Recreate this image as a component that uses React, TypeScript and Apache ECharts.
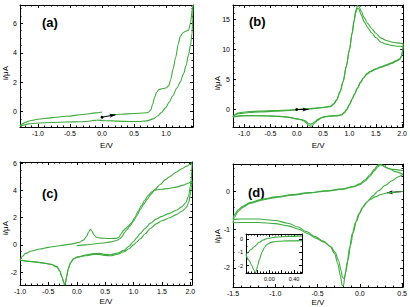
import React, { useEffect, useRef } from 'react';
import * as echarts from 'echarts';

const GREEN = '#3dac3d';
const FONT = 'Liberation Sans, Arial, sans-serif';

// ---- (a) ----
const aForward: number[][] = [[0.12,-0.24],[0.3,-0.18],[0.5,-0.13],[0.65,-0.1],[0.72,-0.06],[0.76,0.1],[0.79,0.5],[0.82,0.95],[0.85,1.3],[0.89,1.5],[0.95,1.57],[1.0,1.6],[1.04,1.75],[1.07,2.15],[1.11,2.9],[1.15,3.7],[1.19,4.6],[1.22,5.1],[1.26,5.35],[1.3,5.45],[1.35,5.54],[1.38,6.0],[1.41,7.0],[1.42,7.25]];
const aReverse: number[][] = [[1.42,7.25],[1.415,6.3],[1.405,5.3],[1.38,4.5],[1.35,3.85],[1.31,3.1],[1.27,2.55],[1.22,2.0],[1.17,1.6],[1.1,1.05],[1.05,0.65],[0.99,0.25],[0.93,-0.05],[0.87,-0.3],[0.8,-0.5],[0.7,-0.63],[0.55,-0.68],[0.35,-0.67],[0.15,-0.63],[0.03,-0.62],[-0.06,-0.58],[-0.12,-0.6],[-0.2,-0.66],[-0.35,-0.69],[-0.55,-0.71],[-0.8,-0.74],[-1.0,-0.78],[-1.15,-0.84],[-1.23,-0.92],[-1.28,-1.0]];
const aReturn: number[][] = [[-1.28,-1.0],[-1.25,-0.85],[-1.2,-0.74],[-1.12,-0.62],[-1.0,-0.52],[-0.8,-0.43],[-0.55,-0.32],[-0.3,-0.2],[-0.1,-0.09],[0.0,-0.03]];
const aArrow: number[][] = [[0.0,-0.38],[0.21,-0.22]];

// ---- (b) ----
const bForward1: number[][] = [[0,0.02],[0.2,0.1],[0.4,0.25],[0.55,0.4],[0.64,0.5],[0.7,0.9],[0.76,1.6],[0.82,2.9],[0.88,4.6],[0.94,7.2],[1.0,10.0],[1.05,12.8],[1.09,15.0],[1.12,16.5],[1.15,17.3],[1.18,17.2],[1.22,16.4],[1.28,15.3],[1.35,14.3],[1.42,13.5],[1.5,12.7],[1.6,11.9],[1.7,11.5],[1.8,11.25],[1.9,11.1],[2.02,11.0]];
const bForward2: number[][] = [[0,0.05],[0.2,0.14],[0.4,0.3],[0.55,0.45],[0.64,0.6],[0.7,1.0],[0.76,1.7],[0.82,3.0],[0.88,4.7],[0.94,7.2],[1.0,9.9],[1.05,12.6],[1.09,14.7],[1.12,16.1],[1.15,16.9],[1.18,16.7],[1.22,15.8],[1.28,14.6],[1.35,13.6],[1.42,12.8],[1.5,12.0],[1.6,11.2],[1.7,10.9],[1.8,10.7],[1.9,10.55],[2.02,10.5]];
const bReverse1: number[][] = [[2.02,11.0],[2.01,10.0],[1.99,9.0],[1.96,8.5],[1.9,8.2],[1.8,7.8],[1.7,7.45],[1.6,7.15],[1.5,6.8],[1.4,6.4],[1.33,6.0],[1.27,5.4],[1.21,4.6],[1.15,3.6],[1.1,2.7],[1.05,1.8],[1.0,0.9],[0.95,0.1],[0.9,-0.45],[0.85,-0.8],[0.78,-0.95],[0.65,-1.0],[0.55,-1.1],[0.47,-1.35],[0.4,-1.75],[0.34,-2.25],[0.29,-2.65],[0.26,-2.75],[0.22,-2.55],[0.17,-2.1],[0.12,-1.8],[0.06,-1.62],[0.01,-1.55],[-0.04,-1.5],[-0.1,-1.35],[-0.2,-1.2],[-0.35,-1.1],[-0.6,-1.02],[-0.9,-1.0],[-1.05,-1.02],[-1.15,-1.1],[-1.21,-1.2]];
const bReverse2: number[][] = [[2.02,10.5],[2.01,9.6],[1.99,8.9],[1.96,8.4],[1.9,8.1],[1.8,7.7],[1.7,7.35],[1.6,7.05],[1.5,6.7],[1.4,6.3],[1.33,5.9],[1.27,5.3],[1.21,4.5],[1.15,3.5],[1.1,2.6],[1.05,1.7],[1.0,0.8],[0.95,0.0],[0.9,-0.55],[0.85,-0.88],[0.78,-1.02],[0.65,-1.08],[0.55,-1.16],[0.47,-1.3],[0.4,-1.6],[0.34,-2.0],[0.3,-2.3],[0.26,-2.4],[0.22,-2.25],[0.17,-1.9],[0.12,-1.7],[0.06,-1.58],[0.01,-1.52],[-0.04,-1.46],[-0.1,-1.33],[-0.2,-1.18],[-0.35,-1.08],[-0.6,-1.0],[-0.9,-0.98],[-1.05,-1.0],[-1.15,-1.08],[-1.21,-1.2]];
const bReturn1: number[][] = [[-1.21,-1.2],[-1.18,-0.85],[-1.13,-0.6],[-1.05,-0.45],[-0.9,-0.32],[-0.7,-0.24],[-0.4,-0.14],[-0.15,-0.05],[0,0.02]];
const bReturn2: number[][] = [[-1.21,-1.2],[-1.19,-0.95],[-1.14,-0.75],[-1.05,-0.6],[-0.9,-0.47],[-0.7,-0.38],[-0.4,-0.25],[-0.15,-0.12],[0,-0.05]];
const bArrow: number[][] = [[0.0,0.05],[0.22,0.05]];

// ---- (c) ----
const cForward1: number[][] = [[0,-0.05],[0.15,0.0],[0.3,0.07],[0.45,0.14],[0.6,0.22],[0.7,0.32],[0.76,0.45],[0.8,0.62],[0.84,0.9],[0.88,1.1],[0.93,1.35],[1.0,1.75],[1.06,2.15],[1.12,2.6],[1.18,3.0],[1.24,3.35],[1.3,3.7],[1.38,4.1],[1.47,4.45],[1.56,4.8],[1.65,5.05],[1.75,5.35],[1.85,5.6],[1.94,5.8],[2.0,5.95],[2.03,6.05]];
const cReverse1: number[][] = [[2.03,6.05],[2.025,5.4],[2.02,4.9],[2.0,4.3],[1.97,3.6],[1.92,3.1],[1.85,2.8],[1.75,2.55],[1.62,2.3],[1.5,2.1],[1.4,1.9],[1.3,1.6],[1.2,1.2],[1.12,0.85],[1.05,0.5],[1.0,0.25],[0.92,-0.1],[0.83,-0.4],[0.72,-0.6],[0.6,-0.72],[0.5,-0.7],[0.4,-0.62],[0.3,-0.64],[0.15,-0.75],[0.02,-0.88],[-0.06,-1.02],[-0.11,-1.3],[-0.15,-1.75],[-0.18,-2.35],[-0.2,-2.8],[-0.215,-2.95],[-0.23,-2.75],[-0.26,-2.35],[-0.3,-1.9],[-0.35,-1.6],[-0.45,-1.42],[-0.6,-1.32],[-0.8,-1.22],[-1.0,-1.12]];
const cForward2: number[][] = [[-1.0,-1.12],[-0.96,-0.85],[-0.9,-0.62],[-0.8,-0.45],[-0.65,-0.3],[-0.5,-0.18],[-0.3,-0.06],[-0.1,0.06],[0.05,0.2],[0.12,0.35],[0.17,0.62],[0.21,0.95],[0.24,1.15],[0.27,1.0],[0.3,0.75],[0.35,0.56],[0.42,0.5],[0.55,0.47],[0.68,0.48],[0.74,0.55],[0.78,0.8],[0.82,1.05],[0.86,1.2],[0.9,1.35],[0.96,1.6],[1.02,2.0],[1.08,2.45],[1.14,2.9],[1.2,3.3],[1.26,3.65],[1.32,3.9],[1.4,4.05],[1.5,4.1],[1.62,4.15],[1.75,4.25],[1.88,4.4],[1.97,4.55],[2.03,4.7]];
const cReverse2: number[][] = [[2.03,4.7],[2.02,4.2],[2.0,3.7],[1.97,3.1],[1.93,2.75],[1.86,2.5],[1.76,2.25],[1.64,2.0],[1.5,1.78],[1.4,1.55],[1.3,1.22],[1.2,0.8],[1.12,0.45],[1.05,0.2],[1.0,0.0],[0.92,-0.28],[0.83,-0.5],[0.72,-0.68],[0.6,-0.8],[0.5,-0.78],[0.4,-0.7],[0.3,-0.7],[0.15,-0.8],[0.02,-0.9],[-0.06,-1.05],[-0.11,-1.32],[-0.15,-1.78],[-0.18,-2.38],[-0.2,-2.82],[-0.215,-2.95],[-0.23,-2.75],[-0.26,-2.37],[-0.3,-1.92],[-0.35,-1.62],[-0.45,-1.44],[-0.6,-1.33],[-0.8,-1.23],[-1.0,-1.13]];

// ---- (d) ----
const dReverse1: number[][] = [[0.51,0.0],[0.4,-0.02],[0.32,-0.04],[0.25,-0.08],[0.18,-0.14],[0.12,-0.21],[0.07,-0.3],[0.03,-0.42],[-0.01,-0.58],[-0.05,-0.8],[-0.09,-1.1],[-0.12,-1.45],[-0.15,-1.85],[-0.175,-2.2],[-0.195,-2.48],[-0.21,-2.45],[-0.23,-2.2],[-0.26,-1.9],[-0.3,-1.62],[-0.35,-1.44],[-0.43,-1.3],[-0.53,-1.18],[-0.63,-1.05],[-0.73,-0.93],[-0.85,-0.83],[-1.0,-0.76],[-1.2,-0.72],[-1.4,-0.72],[-1.5,-0.73]];
const dForward1: number[][] = [[-1.5,-0.73],[-1.48,-0.6],[-1.44,-0.48],[-1.38,-0.38],[-1.3,-0.29],[-1.15,-0.2],[-1.0,-0.14],[-0.8,-0.08],[-0.6,-0.03],[-0.4,0.02],[-0.2,0.07],[-0.08,0.13],[0.0,0.2],[0.06,0.3],[0.12,0.44],[0.17,0.58],[0.21,0.68],[0.24,0.72],[0.27,0.68],[0.31,0.62],[0.38,0.58],[0.51,0.55]];
const dReverse2: number[][] = [[0.51,0.45],[0.45,0.38],[0.38,0.28],[0.3,0.16],[0.22,0.02],[0.15,-0.12],[0.09,-0.26],[0.04,-0.4],[0.0,-0.56],[-0.04,-0.78],[-0.08,-1.08],[-0.11,-1.42],[-0.14,-1.8],[-0.165,-2.1],[-0.185,-2.28],[-0.205,-2.25],[-0.225,-2.05],[-0.25,-1.82],[-0.29,-1.6],[-0.34,-1.45],[-0.42,-1.33],[-0.52,-1.22],[-0.62,-1.1],[-0.72,-0.99],[-0.85,-0.9],[-1.0,-0.84],[-1.2,-0.81],[-1.4,-0.81],[-1.5,-0.82]];
const dForward2: number[][] = [[-1.5,-0.82],[-1.48,-0.66],[-1.44,-0.52],[-1.38,-0.41],[-1.3,-0.31],[-1.15,-0.22],[-1.0,-0.16],[-0.8,-0.1],[-0.6,-0.04],[-0.4,0.01],[-0.2,0.06],[-0.08,0.12],[0.0,0.18],[0.06,0.27],[0.12,0.4],[0.17,0.54],[0.21,0.64],[0.25,0.7],[0.29,0.66],[0.34,0.6],[0.42,0.52],[0.51,0.45]];
const dArrow: number[][] = [[0.5,0.0],[0.32,-0.03]];

// ---- (d) inset ----
const insetReverse: number[][] = [[0.53,-0.1],[0.3,-0.12],[0.15,-0.15],[0.06,-0.2],[0.01,-0.27],[-0.04,-0.4],[-0.08,-0.62],[-0.12,-0.98],[-0.16,-1.5],[-0.19,-2.0],[-0.215,-2.45],[-0.23,-2.55],[-0.25,-2.35],[-0.29,-1.95],[-0.33,-1.6],[-0.38,-1.2]];
const insetForward: number[][] = [[-0.38,-1.2],[-0.35,-1.0],[-0.3,-0.78],[-0.24,-0.55],[-0.17,-0.25],[-0.1,-0.05],[-0.02,0.08],[0.1,0.16],[0.3,0.22],[0.53,0.26]];

type AxisCfg = { min: number; max: number; split: number; step: number; dec: number; minor: number };
type Panel = {
  grid: { left: number; top: number; width: number; height: number };
  x: AxisCfg; y: AxisCfg;
  xName?: string; xGap?: number;
  labelSize: number;
  traces: number[][][];
  arrow?: { pts: number[][]; symbols: string[] };
};

const panels: Panel[] = [
  { grid: { left: 20, top: 5, width: 173, height: 122 },
    x: { min: -1.28, max: 1.42, split: 5, step: 0.5, dec: 1, minor: 5 },
    y: { min: -1.05, max: 7.25, split: 5, step: 2, dec: 0, minor: 4 },
    xName: 'E/V', xGap: 14, labelSize: 7,
    traces: [aForward, aReverse, aReturn],
    arrow: { pts: aArrow, symbols: ['circle', 'arrow'] } },
  { grid: { left: 233, top: 5, width: 172, height: 122 },
    x: { min: -1.21, max: 2.02, split: 5, step: 0.5, dec: 1, minor: 5 },
    y: { min: -2.87, max: 17.4, split: 5, step: 5, dec: 0, minor: 5 },
    xName: 'E/V', xGap: 14, labelSize: 7,
    traces: [bForward1, bReverse1, bReturn1, bForward2, bReverse2, bReturn2],
    arrow: { pts: bArrow, symbols: ['circle', 'arrow'] } },
  { grid: { left: 20, top: 162, width: 172, height: 123 },
    x: { min: -1.0, max: 2.03, split: 5, step: 0.5, dec: 1, minor: 5 },
    y: { min: -2.95, max: 6.1, split: 5, step: 2, dec: 0, minor: 4 },
    xName: 'E/V', xGap: 12, labelSize: 7,
    traces: [cForward1, cReverse1, cForward2, cReverse2] },
  { grid: { left: 233, top: 164, width: 173, height: 123 },
    x: { min: -1.5, max: 0.51, split: 4, step: 0.5, dec: 1, minor: 5 },
    y: { min: -2.5, max: 0.72, split: 3, step: 1, dec: 0, minor: 5 },
    xName: 'E/V', xGap: 11, labelSize: 7,
    traces: [dReverse1, dForward1, dReverse2, dForward2],
    arrow: { pts: dArrow, symbols: ['none', 'arrow'] } },
  { grid: { left: 246, top: 234, width: 56, height: 39 },
    x: { min: -0.38, max: 0.53, split: 5, step: 0.4, dec: 2, minor: 4 },
    y: { min: -2.56, max: 0.4, split: 3, step: 1, dec: 0, minor: 2 },
    labelSize: 5.5,
    traces: [insetReverse, insetForward] },
];

const panelLetters = [
  { text: '(a)', x: 42, y: 22 },
  { text: '(b)', x: 249, y: 21 },
  { text: '(c)', x: 42, y: 193 },
  { text: '(d)', x: 248, y: 192 },
];
const yNames = [
  { x: 5, y: 73 },
  { x: 217, y: 83 },
  { x: 5, y: 228 },
  { x: 217, y: 236 },
];

const fmt = (step: number, dec: number) => (v: number) => {
  const r = v / step;
  if (Math.abs(r - Math.round(r)) > 1e-6) return '';
  const n = Math.round(r) * step;
  return (Math.abs(n) < 1e-9 ? 0 : n).toFixed(dec);
};

function axis(gridIndex: number, cfg: AxisCfg, position: string, labels: boolean, size: number, extra: any = {}) {
  return {
    type: 'value', gridIndex, position, min: cfg.min, max: cfg.max, splitNumber: cfg.split,
    axisLine: { show: true, onZero: false, lineStyle: { color: '#000', width: 1 } },
    axisTick: { show: true, inside: true, length: 3, lineStyle: { color: '#000', width: 1 } },
    minorTick: { show: true, splitNumber: cfg.minor, length: 1.5, lineStyle: { color: '#000', width: 1 } },
    splitLine: { show: false }, minorSplitLine: { show: false },
    axisLabel: { show: labels, margin: 3, fontSize: size, fontFamily: FONT, color: '#000', formatter: fmt(cfg.step, cfg.dec) },
    ...extra,
  };
}

function buildOption() {
  const grid: any[] = [];
  const xAxis: any[] = [];
  const yAxis: any[] = [];
  const series: any[] = [];
  panels.forEach((p, g) => {
    grid.push({ ...p.grid, show: true, backgroundColor: '#fff', borderWidth: 0, containLabel: false });
    xAxis.push(axis(g, p.x, 'bottom', true, p.labelSize, p.xName ? {
      name: p.xName, nameLocation: 'middle', nameGap: p.xGap,
      nameTextStyle: { fontSize: 8, fontFamily: FONT, color: '#000' },
    } : {}));
    xAxis.push(axis(g, p.x, 'top', false, p.labelSize));
    yAxis.push(axis(g, p.y, 'left', true, p.labelSize));
    yAxis.push(axis(g, p.y, 'right', false, p.labelSize));
    p.traces.forEach((t, k) => {
      const s: any = {
        type: 'line', xAxisIndex: 2 * g, yAxisIndex: 2 * g, data: t,
        symbol: 'none', showSymbol: false, smooth: 0.3, smoothMonotone: 'x',
        lineStyle: { color: GREEN, width: 1.1 }, silent: true, z: 2 + g,
      };
      if (k === 0 && p.arrow) {
        s.markLine = {
          silent: true, symbol: p.arrow.symbols, symbolSize: [3, 6],
          lineStyle: { color: '#000', width: 1, type: 'solid' },
          label: { show: false },
          data: [[{ coord: p.arrow.pts[0] }, { coord: p.arrow.pts[1] }]],
        };
      }
      series.push(s);
    });
  });
  const graphic: any[] = [];
  panelLetters.forEach((l) => graphic.push({
    type: 'text', x: l.x, y: l.y,
    style: { text: l.text, fontSize: 13, fontWeight: 'bold', fontFamily: FONT, fill: '#000', verticalAlign: 'middle' },
  }));
  yNames.forEach((n) => graphic.push({
    type: 'text', x: n.x, y: n.y, rotation: Math.PI / 2,
    style: { text: 'i/μA', fontSize: 8, fontFamily: FONT, fill: '#000', align: 'center', verticalAlign: 'middle' },
  }));
  return { animation: false, backgroundColor: '#fff', grid, xAxis, yAxis, series, graphic };
}

export default function App() {
  const ref = useRef<HTMLDivElement>(null);
  useEffect(() => {
    if (!ref.current) return;
    const chart = echarts.init(ref.current, undefined, { renderer: 'svg' });
    chart.setOption(buildOption() as any);
    return () => chart.dispose();
  }, []);
  return <div ref={ref} style={{ position: 'fixed', left: 0, top: 0, width: 410, height: 307 }} />;
}
